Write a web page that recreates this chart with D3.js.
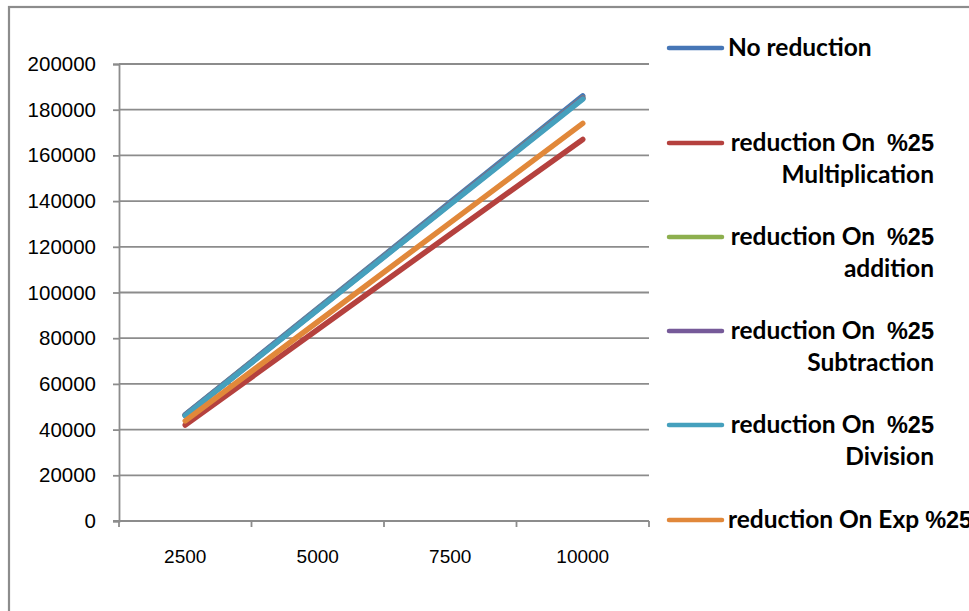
<!DOCTYPE html>
<html>
<head>
<meta charset="utf-8">
<script src="https://cdn.jsdelivr.net/npm/d3@7/dist/d3.min.js"></script>
<style>
  html, body { margin: 0; padding: 0; background: #fff; }
  svg { display: block; }
</style>
</head>
<body>
<svg id="chart" width="969" height="611"></svg>
<script>
// Data: run time for each input size, per reduction scheme
const categories = ["2500", "5000", "7500", "10000"];
const noReduction     = [46500, 93000, 139500, 186000];
const mulReduction    = [42000, 83800, 125500, 167000];
const addReduction    = [46300, 92700, 139000, 185200];
const subReduction    = [46300, 92600, 138900, 185000];
const divReduction    = [46100, 92400, 138600, 184600];
const expReduction    = [43800, 87200, 130600, 174000];
const yTicks = [0, 20000, 40000, 60000, 80000, 100000, 120000, 140000, 160000, 180000, 200000];

// Legend labels: first line is split so the "%25" part can use its own font
const series = [
  { values: noReduction,  color: "#4676B6", lines: [["No reduction", ""]] },
  { values: mulReduction, color: "#B5413E", lines: [["reduction On  ", "%25"], ["Multiplication", ""]] },
  { values: addReduction, color: "#8DAF4E", lines: [["reduction On  ", "%25"], ["addition", ""]] },
  { values: subReduction, color: "#765A99", lines: [["reduction On  ", "%25"], ["Subtraction", ""]] },
  { values: divReduction, color: "#45A0BD", lines: [["reduction On  ", "%25"], ["Division", ""]] },
  { values: expReduction, color: "#E1883A", lines: [["reduction On Exp ", "%25"]] }
];

const svg = d3.select("#chart");
const plot = { left: 119, right: 649, top: 64, bottom: 521 };

// Outer chart frame (extends past the right and bottom edges)
svg.append("rect")
  .attr("x", 9).attr("y", 7)
  .attr("width", 1000).attr("height", 700)
  .attr("fill", "none")
  .attr("stroke", "#8c8c8c")
  .attr("stroke-width", 2.2);

const x = d3.scaleBand().domain(categories).range([plot.left, plot.right]).padding(0);
const y = d3.scaleLinear().domain([0, 200000]).range([plot.bottom, plot.top]);

// Horizontal gridlines
svg.append("g").selectAll("line")
  .data(yTicks.filter(d => d > 0))
  .join("line")
  .attr("x1", plot.left).attr("x2", plot.right)
  .attr("y1", d => y(d)).attr("y2", d => y(d))
  .attr("stroke", "#8c8c8c").attr("stroke-width", 1.8);

// Y axis
const yAxis = svg.append("g")
  .attr("transform", `translate(${plot.left},0)`)
  .call(d3.axisLeft(y).tickValues(yTicks).tickSize(6).tickPadding(17).tickFormat(d3.format("d")));
yAxis.select(".domain").attr("stroke", "#8c8c8c").attr("stroke-width", 1.8);
yAxis.selectAll(".tick line").attr("stroke", "#8c8c8c").attr("stroke-width", 1.8);
yAxis.selectAll("text")
  .attr("font-family", "'Liberation Sans', Arial, sans-serif")
  .attr("font-size", 20.5).attr("fill", "#000");

// X axis: labels centred in each band, tick marks at band boundaries
const xAxis = svg.append("g")
  .attr("transform", `translate(0,${plot.bottom})`)
  .call(d3.axisBottom(x).tickSize(0).tickPadding(29));
xAxis.select(".domain").remove();
xAxis.selectAll("text")
  .attr("font-family", "'Liberation Sans', Arial, sans-serif")
  .attr("font-size", 19).attr("fill", "#000");

svg.append("line")
  .attr("x1", plot.left - 6).attr("x2", plot.right)
  .attr("y1", y(0)).attr("y2", y(0))
  .attr("stroke", "#8c8c8c").attr("stroke-width", 1.8);

const edges = categories.map(c => x(c)).concat([x(categories[categories.length - 1]) + x.bandwidth()]);
svg.append("g").selectAll("line")
  .data(edges)
  .join("line")
  .attr("x1", d => d).attr("x2", d => d)
  .attr("y1", y(0)).attr("y2", y(0) + 6)
  .attr("stroke", "#8c8c8c").attr("stroke-width", 1.8);

// Series lines
const line = d3.line()
  .x((d, i) => x(categories[i]) + x.bandwidth() / 2)
  .y(d => y(d));

svg.append("g").selectAll("path")
  .data(series)
  .join("path")
  .attr("d", d => line(d.values))
  .attr("fill", "none")
  .attr("stroke", d => d.color)
  .attr("stroke-width", 5.5)
  .attr("stroke-linecap", "round")
  .attr("stroke-linejoin", "round");

// Legend
const legendY = [48, 143, 237, 331, 425, 520];
const legend = svg.append("g");
series.forEach((s, i) => {
  const cy = legendY[i];
  legend.append("line")
    .attr("x1", 669).attr("x2", 722)
    .attr("y1", cy).attr("y2", cy)
    .attr("stroke", s.color).attr("stroke-width", 4.5)
    .attr("stroke-linecap", "round");
  s.lines.forEach((parts, j) => {
    const twoLine = s.lines.length > 1;
    const t = legend.append("text")
      .attr("x", twoLine ? 934 : 728)
      .attr("y", cy + 8 + j * 32)
      .attr("text-anchor", twoLine ? "end" : "start")
      .attr("font-family", "Lato, 'Open Sans', sans-serif")
      .attr("font-weight", "bold")
      .attr("font-size", 24.5)
      .attr("fill", "#000")
      .style("white-space", "pre");
    t.append("tspan").text(parts[0]);
    if (parts[1]) {
      t.append("tspan")
        .attr("font-family", "'Liberation Sans', Arial, sans-serif")
        .attr("font-size", 23.5)
        .text(parts[1]);
    }
  });
});
</script>
</body>
</html>
